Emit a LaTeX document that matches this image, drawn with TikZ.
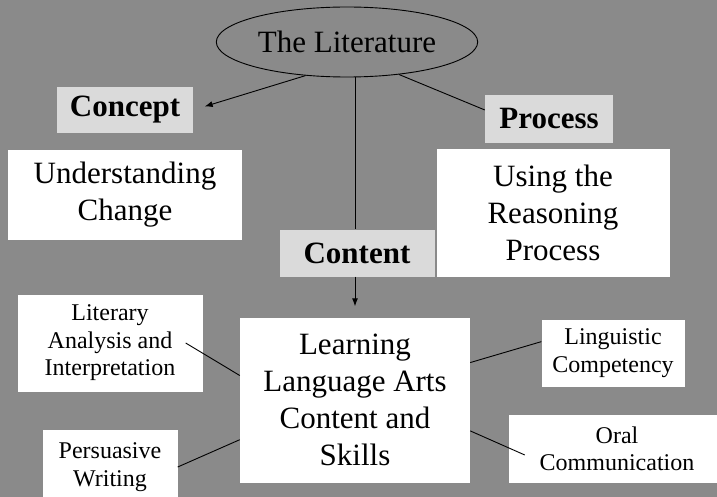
\documentclass[tikz,border=0pt]{standalone}
\usepackage{fontspec}
\setmainfont{Liberation Serif}
\usetikzlibrary{shapes,arrows.meta,positioning,calc}
\definecolor{LitBack}{RGB}{138,138,138}
\definecolor{LitTag}{RGB}{218,218,218}

\begin{document}
\begin{tikzpicture}[x=1pt, y=-1pt]
  \tikzstyle{big} = [rectangle, fill=white, inner sep=0pt, align=center, font=\fontsize{31}{37}\selectfont]
  \tikzstyle{small} = [rectangle, fill=white, inner sep=0pt, align=center, font=\fontsize{24}{27.5}\selectfont]
  \tikzstyle{tag} = [rectangle, fill=LitTag, inner sep=0pt, font=\fontsize{31}{37}\selectfont\bfseries]
  \tikzstyle{line} = [draw=black, line width=0.9pt]
  \tikzstyle{arrow} = [line, -{Latex[length=8pt,width=6pt]}, shorten >=11pt]

  \clip (0,0) rectangle (717,497);
  \fill [LitBack] (0,0) rectangle (717,497);

  % the source text and the three strands
  \node [ellipse, draw, line width=0.9pt, minimum width=261pt, minimum height=70pt, font=\fontsize{31}{36}\selectfont] (lit) at (347,42) {The Literature};
  \node [tag, minimum width=136pt, minimum height=46pt] (concept) at (125,110) {Concept};
  \node [tag, minimum width=128pt, minimum height=48pt] (process) at (549,119) {Process};
  \node [tag, minimum width=155pt, minimum height=47pt] (content) at (357,253) {Content};

  \node [big, minimum width=234pt, minimum height=90pt] (understanding) at (125,195) {Understanding\\Change};
  \node [big, minimum width=233pt, minimum height=127pt] (reasoning) at (553,213) {Using the\\Reasoning\\Process};
  \node [big, minimum width=230pt, minimum height=165pt] (learning) at (355,400) {Learning\\Language Arts\\Content and\\Skills};

  % skills round the content box
  \node [small, minimum width=185pt, minimum height=97pt] (literary) at (110,343) {Literary\\Analysis and\\Interpretation};
  \node [small, minimum width=135pt, minimum height=75pt] (persuasive) at (110,467) {Persuasive\\Writing};
  \node [small, minimum width=143pt, minimum height=67pt] (linguistic) at (613,353) {Linguistic\\Competency};
  \node [small, minimum width=216pt, minimum height=68pt] (oral) at (617,449) {Oral\\Communication};

  \path [arrow, shorten >=12pt] (lit.219) -- (concept.east);
  \path [line] (lit.-32) -- (process.172);
  \path [line] (lit.south -| learning) -- (learning |- content.north);
  \path [arrow] (learning |- content.south) -- (learning.north);

  \path [line] (learning.168) -- ($(literary.east)+(-17,0)$);
  \path [line] (learning.199) -- (persuasive.east);
  \path [line] (learning.18) -- (linguistic.171);
  \path [line] (learning.-15) -- ($(oral.west)+(16,6)$);
\end{tikzpicture}
\end{document}
